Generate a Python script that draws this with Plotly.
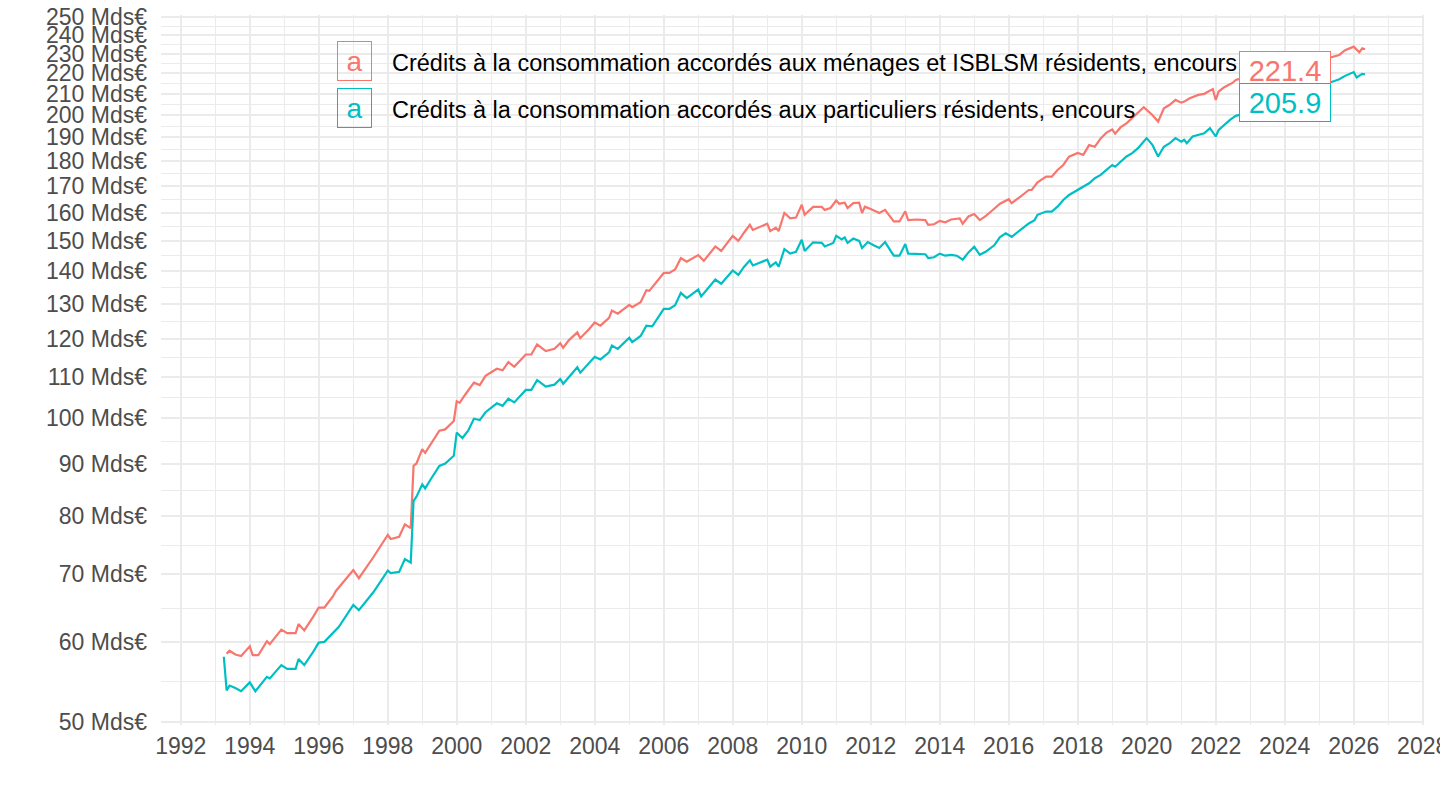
import math
import plotly.graph_objects as go

# --- data (Mds€, monthly outstanding amounts) ---
dates_menages = [
    "1993-05", "1993-06", "1993-08", "1993-10", "1994-01", "1994-02", "1994-04", "1994-07",
    "1994-08", "1994-12", "1995-02", "1995-05", "1995-06", "1995-08", "1995-11", "1996-01",
    "1996-03", "1996-06", "1996-07", "1997-01", "1997-03", "1997-08", "1998-01", "1998-02",
    "1998-05", "1998-07", "1998-09", "1998-10", "1998-11", "1999-01", "1999-02", "1999-07",
    "1999-09", "1999-12", "2000-01", "2000-02", "2000-04", "2000-07", "2000-09", "2000-11",
    "2001-03", "2001-05", "2001-07", "2001-09", "2002-01", "2002-03", "2002-05", "2002-08",
    "2002-11", "2003-01", "2003-02", "2003-04", "2003-07", "2003-08", "2003-11", "2004-01",
    "2004-03", "2004-06", "2004-07", "2004-09", "2005-01", "2005-02", "2005-05", "2005-07",
    "2005-08", "2006-01", "2006-03", "2006-05", "2006-07", "2006-09", "2007-01", "2007-03",
    "2007-07", "2007-09", "2008-01", "2008-03", "2008-05", "2008-07", "2008-08", "2009-01",
    "2009-02", "2009-04", "2009-05", "2009-07", "2009-09", "2009-11", "2010-01", "2010-02",
    "2010-05", "2010-08", "2010-09", "2010-11", "2011-01", "2011-02", "2011-04", "2011-05",
    "2011-07", "2011-09", "2011-10", "2011-11", "2012-01", "2012-04", "2012-06", "2012-09",
    "2012-11", "2013-01", "2013-02", "2013-05", "2013-08", "2013-09", "2013-11", "2014-01",
    "2014-03", "2014-05", "2014-08", "2014-09", "2014-11", "2015-01", "2015-03", "2015-05",
    "2015-07", "2015-10", "2016-01", "2016-02", "2016-05", "2016-08", "2016-09", "2016-11",
    "2017-02", "2017-04", "2017-06", "2017-08", "2017-10", "2018-01", "2018-03", "2018-05",
    "2018-07", "2018-09", "2018-11", "2019-01", "2019-02", "2019-04", "2019-06", "2019-08",
    "2019-10", "2019-12", "2020-03", "2020-05", "2020-07", "2020-09", "2020-11", "2021-01",
    "2021-02", "2021-04", "2021-07", "2021-09", "2021-12", "2022-01", "2022-02", "2022-04",
    "2022-07", "2022-08", "2022-12", "2023-03", "2023-06", "2023-09", "2023-12", "2024-03",
    "2024-06", "2024-09", "2024-12", "2025-02", "2025-04", "2025-08", "2025-10", "2026-01",
    "2026-03", "2026-04", "2026-05",
]
val_menages = [
    58.4, 58.8, 58.3, 58.1, 59.4, 58.2, 58.2, 60.1,
    59.7, 61.7, 61.2, 61.2, 62.5, 61.6, 63.5, 64.9,
    64.9, 66.6, 67.4, 70.7, 69.4, 72.8, 76.6, 75.9,
    76.3, 78.5, 77.8, 89.7, 90.2, 93.2, 92.4, 97.2,
    97.5, 99.4, 104.0, 103.6, 105.6, 108.5, 107.9, 110.2,
    112.0, 111.6, 113.7, 112.5, 115.7, 115.7, 118.4, 116.6,
    117.2, 118.7, 117.5, 119.5, 121.7, 120.1, 122.6, 124.5,
    123.6, 125.8, 127.9, 127.0, 129.6, 128.9, 130.4, 134.0,
    133.8, 139.4, 139.4, 140.5, 144.2, 143.0, 145.2, 143.3,
    148.1, 146.6, 151.7, 150.0, 152.9, 155.6, 153.8, 156.0,
    153.4, 154.6, 153.4, 159.9, 157.9, 158.2, 162.9, 159.2,
    162.1, 162.1, 161.0, 161.7, 164.5, 163.3, 163.7, 161.7,
    163.5, 163.7, 159.9, 162.2, 161.3, 159.9, 161.0, 156.8,
    156.8, 160.5, 157.3, 157.5, 157.3, 155.6, 155.8, 157.0,
    156.5, 157.5, 157.9, 156.0, 158.6, 159.5, 157.3, 158.7,
    160.5, 163.3, 165.0, 163.5, 165.9, 168.5, 168.5, 171.5,
    173.7, 173.7, 176.4, 178.4, 181.8, 183.4, 182.6, 186.7,
    186.0, 189.6, 192.1, 193.5, 191.6, 194.5, 196.2, 198.5,
    200.8, 203.6, 200.0, 197.0, 203.1, 204.7, 207.0, 205.7,
    206.2, 207.8, 209.4, 209.9, 212.2, 207.0, 211.0, 213.1,
    215.3, 216.7, 218.3, 219.0, 220.2, 221.4, 223.0, 222.4,
    223.8, 224.9, 226.5, 225.8, 227.7, 229.4, 231.9, 233.8,
    230.8, 232.9, 232.4,
]

dates_particuliers = [
    "1993-04", "1993-05", "1993-06", "1993-08", "1993-10", "1994-01", "1994-03", "1994-07",
    "1994-08", "1994-12", "1995-02", "1995-05", "1995-06", "1995-08", "1995-11", "1996-01",
    "1996-03", "1996-06", "1996-08", "1997-01", "1997-03", "1997-08", "1998-01", "1998-02",
    "1998-05", "1998-07", "1998-09", "1998-10", "1998-11", "1999-01", "1999-02", "1999-04",
    "1999-07", "1999-09", "1999-12", "2000-01", "2000-03", "2000-05", "2000-07", "2000-09",
    "2000-11", "2001-03", "2001-05", "2001-07", "2001-09", "2002-01", "2002-03", "2002-05",
    "2002-08", "2002-11", "2003-01", "2003-02", "2003-05", "2003-07", "2003-08", "2003-11",
    "2004-01", "2004-03", "2004-06", "2004-07", "2004-09", "2005-01", "2005-02", "2005-05",
    "2005-07", "2005-09", "2006-01", "2006-03", "2006-05", "2006-07", "2006-09", "2007-01",
    "2007-02", "2007-07", "2007-09", "2008-01", "2008-03", "2008-05", "2008-07", "2008-08",
    "2009-01", "2009-02", "2009-04", "2009-05", "2009-07", "2009-09", "2009-11", "2010-01",
    "2010-02", "2010-05", "2010-08", "2010-09", "2010-12", "2011-01", "2011-03", "2011-04",
    "2011-05", "2011-07", "2011-09", "2011-10", "2011-12", "2012-02", "2012-04", "2012-06",
    "2012-09", "2012-11", "2013-01", "2013-02", "2013-05", "2013-08", "2013-09", "2013-11",
    "2014-01", "2014-03", "2014-05", "2014-07", "2014-09", "2014-11", "2015-01", "2015-03",
    "2015-05", "2015-08", "2015-10", "2015-12", "2016-02", "2016-05", "2016-08", "2016-10",
    "2016-11", "2017-02", "2017-04", "2017-06", "2017-08", "2017-10", "2018-01", "2018-03",
    "2018-05", "2018-07", "2018-09", "2018-11", "2019-01", "2019-02", "2019-04", "2019-06",
    "2019-08", "2019-10", "2019-12", "2020-01", "2020-03", "2020-05", "2020-07", "2020-09",
    "2020-11", "2021-01", "2021-02", "2021-03", "2021-05", "2021-09", "2021-11", "2022-01",
    "2022-02", "2022-06", "2022-08", "2022-12", "2023-03", "2023-06", "2023-09", "2023-12",
    "2024-03", "2024-06", "2024-09", "2024-12", "2025-02", "2025-04", "2025-08", "2025-10",
    "2026-01", "2026-02", "2026-04", "2026-05",
]
val_particuliers = [
    58.0, 53.7, 54.3, 54.0, 53.6, 54.7, 53.6, 55.4,
    55.2, 56.9, 56.4, 56.4, 57.7, 56.9, 58.6, 59.9,
    60.0, 61.3, 62.1, 65.3, 64.5, 67.2, 70.6, 70.2,
    70.4, 72.5, 71.9, 82.8, 83.6, 86.0, 85.2, 87.0,
    89.7, 90.2, 91.8, 96.8, 95.6, 97.2, 99.9, 99.6,
    101.4, 103.5, 102.9, 104.6, 103.7, 106.7, 106.7, 109.1,
    107.5, 108.0, 109.4, 108.2, 110.6, 112.4, 111.0, 113.4,
    115.1, 114.4, 116.3, 118.1, 117.2, 120.2, 119.0, 120.7,
    123.6, 123.4, 128.4, 128.4, 129.5, 133.2, 131.6, 134.2,
    132.1, 137.3, 136.0, 140.2, 138.8, 141.4, 143.5, 141.8,
    143.7, 141.4, 142.8, 141.4, 147.2, 145.7, 146.3, 150.4,
    146.6, 149.5, 149.3, 148.1, 149.3, 151.7, 150.5, 151.2,
    149.3, 150.8, 150.0, 147.6, 149.6, 148.5, 147.6, 149.6,
    145.0, 145.0, 148.9, 145.7, 145.5, 145.5, 144.2, 144.5,
    145.7, 145.0, 145.3, 145.0, 143.7, 146.1, 148.0, 145.3,
    146.3, 148.5, 151.3, 152.6, 151.4, 153.8, 156.1, 157.3,
    159.2, 160.4, 160.4, 162.2, 164.7, 166.6, 168.5, 169.8,
    171.1, 173.1, 174.4, 176.4, 178.4, 177.7, 179.8, 181.9,
    183.3, 185.4, 188.2, 189.7, 186.8, 181.9, 186.0, 187.5,
    189.7, 188.2, 189.0, 187.5, 190.4, 191.8, 194.1, 190.4,
    193.3, 197.8, 199.6, 201.0, 202.2, 203.6, 205.0, 207.0,
    206.5, 208.4, 210.0, 212.3, 211.8, 215.0, 217.0, 218.7,
    220.6, 217.9, 219.7, 219.5,
]

name_menages = "Crédits à la consommation accordés aux ménages et ISBLSM résidents, encours"
name_particuliers = "Crédits à la consommation accordés aux particuliers résidents, encours"

label_date = "2024-01-01"
label_menages = 221.4
label_particuliers = 205.9

y_ticks = list(range(50, 260, 10))
x_years = list(range(1992, 2030, 2))

RED = "#F8766D"
TEAL = "#00BFC4"
FONT = "Liberation Sans, Arial, Helvetica, sans-serif"

fig = go.Figure()
fig.add_trace(go.Scatter(x=[d + "-01" for d in dates_menages], y=val_menages, mode="lines",
                         line=dict(color=RED, width=2.2), name=name_menages, showlegend=False))
fig.add_trace(go.Scatter(x=[d + "-01" for d in dates_particuliers], y=val_particuliers, mode="lines",
                         line=dict(color=TEAL, width=2.2), name=name_particuliers, showlegend=False))

# minor grid: midpoints in log space between major breaks
y_minor = [math.sqrt(a * b) for a, b in zip(y_ticks[:-1], y_ticks[1:])]

fig.update_yaxes(
    type="log", automargin=False,
    range=[math.log10(50) - 0.0033, math.log10(250) + 0.0023],
    tickvals=y_ticks, ticktext=[f"{v} Mds€" for v in y_ticks],
    tickfont=dict(size=23, color="#4D4D4D", family=FONT),
    ticklabelstandoff=13,
    gridcolor="#EBEBEB", gridwidth=2, zeroline=False, showline=False, ticks="",
    minor=dict(tickvals=y_minor, showgrid=True, gridcolor="#EBEBEB", gridwidth=1, ticks=""),
)
fig.update_xaxes(
    type="date", automargin=False,
    range=["1991-06-06", "2028-01-15"],
    tickvals=[f"{y}-01-01" for y in x_years], ticktext=[str(y) for y in x_years],
    tickfont=dict(size=23, color="#4D4D4D", family=FONT),
    ticklabelstandoff=5, ticklabeloverflow="allow",
    gridcolor="#EBEBEB", gridwidth=2, zeroline=False, showline=False, ticks="",
    minor=dict(tickvals=[f"{y + 1}-01-01" for y in x_years[:-1]], showgrid=True,
               gridcolor="#EBEBEB", gridwidth=1, ticks=""),
)

# legend drawn as in the ggplot version: boxed "a" keys followed by the series names
legend_rows = [(name_menages, RED, 0.935, 0.9325), (name_particuliers, TEAL, 0.869, 0.8665)]
for name, color, ykey, ytxt in legend_rows:
    fig.add_annotation(xref="paper", yref="paper", x=0.1534, y=ykey, text="a", showarrow=False,
                       font=dict(size=28, color=color, family=FONT), bgcolor="rgba(255,255,255,0)",
                       bordercolor=color, borderwidth=1, borderpad=0, width=33, height=38,
                       xanchor="center", yanchor="middle")
    fig.add_annotation(xref="paper", yref="paper", x=0.181, y=ytxt, text=name, showarrow=False,
                       font=dict(size=23.5, color="black", family=FONT),
                       xanchor="left", yanchor="middle")

# value labels
for val, color in [(label_menages, RED), (label_particuliers, TEAL)]:
    fig.add_annotation(x=label_date, y=math.log10(val), text=f"{val}", showarrow=False,
                       font=dict(size=29, color=color, family=FONT), bgcolor="white",
                       bordercolor=color, borderwidth=1, borderpad=3, width=84, height=31,
                       xanchor="center", yanchor="middle")

fig.update_layout(
    width=1440, height=810,
    margin=dict(l=161, r=16, t=15, b=85),
    paper_bgcolor="white", plot_bgcolor="white",
    font=dict(family=FONT),
    showlegend=False,
)

fig.write_html("out.html", config={"displayModeBar": False},
               post_script="document.body.style.margin = '0';")
